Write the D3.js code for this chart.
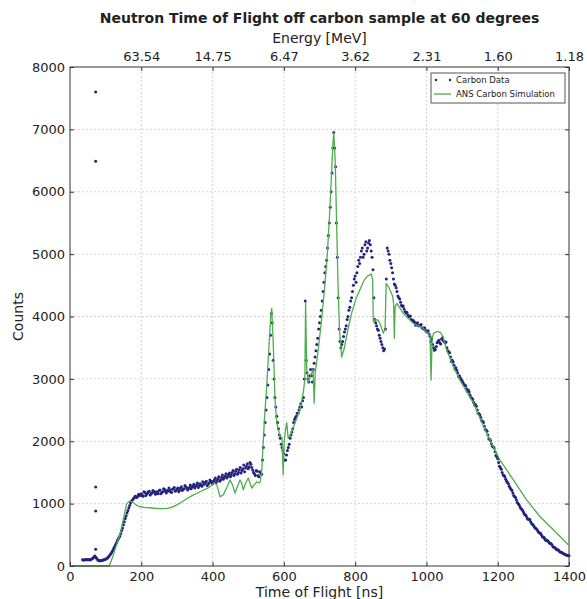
<!DOCTYPE html>
<html>
<head>
<meta charset="utf-8">
<script src="https://cdn.jsdelivr.net/npm/d3@7"></script>
<style>
  body { margin: 0; background: #fff; }
  text { font-family: "DejaVu Sans", sans-serif; fill: #222; }
</style>
</head>
<body>
<div class="graph"></div>
<script>
// measured bins: two interleaved passes, 5 ns wide, offset by 2.5 ns
const binStartA = 35;
const binStartB = 37.5;
const binWidth = 5;
const dataCountsA = [
  // 35-100
  100, 95, 105, 100, 95, 110, 130, 160, 120, 90, 85, 90, 100, 110,
  // 105-195
  130, 160, 200, 250, 310, 370, 430, 480, 570, 660, 760, 850, 930, 1010, 1060, 1090, 1110, 1120, 1140,
  // 200-395
  1160, 1120, 1180, 1150, 1190, 1140, 1170, 1200, 1150, 1180,
  1210, 1160, 1190, 1230, 1170, 1200, 1220, 1180, 1240, 1200,
  1230, 1190, 1250, 1210, 1240, 1270, 1220, 1260, 1240, 1280,
  1250, 1300, 1260, 1320, 1280, 1310, 1340, 1290, 1330, 1360,
  // 400-535
  1320, 1380, 1340, 1400, 1360, 1420, 1390, 1440, 1410, 1470,
  1430, 1500, 1450, 1520, 1470, 1540, 1490, 1560, 1510, 1600,
  1560, 1660, 1580, 1500, 1450, 1520, 1430, 1490,
  // 540-695
  1700, 2100, 2500, 2900, 3400, 4050, 3300, 2700, 2400, 2200,
  2050, 1900, 1800, 1700, 1850, 1950, 2100, 2200, 2350, 2400,
  2450, 2550, 2550, 2700, 4250, 3100, 2950, 3150, 2950, 3250,
  3450, 3650,
  // 700-895
  3900, 4100, 4400, 4700, 4900, 5300, 5750, 6300, 6950, 6400,
  4950, 3800, 3500, 3600, 3750, 3850, 4000, 4150, 4300, 4500,
  4650, 4700, 4900, 4950, 5100, 5000, 5200, 5100, 5220, 5050,
  4750, 3950, 3850, 3780, 3650, 3550, 3450, 3800, 5100, 5000,
  // 900-1095
  4850, 4700, 4520, 4460, 4330, 4280, 4180, 4170, 4080, 4070,
  3990, 4010, 3930, 3920, 3860, 3900, 3850, 3870, 3810, 3820,
  3760, 3770, 3680, 3640, 3500, 3470, 3580, 3620, 3560, 3660,
  3600, 3590, 3450, 3420, 3280, 3270, 3160, 3140, 3040, 3020,
  // 1100-1295
  2970, 2910, 2890, 2800, 2790, 2700, 2670, 2580, 2560, 2450,
  2420, 2330, 2300, 2190, 2160, 2040, 2010, 1920, 1890, 1770,
  1720, 1600, 1550, 1460, 1430, 1360, 1320, 1250, 1210, 1130,
  1100, 1020, 980, 920, 890, 830, 800, 750, 745, 680,
  // 1300-1400
  655, 610, 585, 540, 525, 470, 455, 410, 405, 370,
  355, 310, 295, 260, 255, 225, 215, 195, 185, 170, 165,
];
const dataCountsB = [
  // 37.5-97.5
  95, 100, 100, 105, 100, 120, 150, 140, 100, 85, 88, 95, 105,
  // 102.5-197.5
  120, 145, 180, 225, 280, 340, 400, 455, 520, 610, 710, 800, 890, 970, 1040, 1080, 1120, 1100, 1150, 1130,
  // 202.5-397.5
  1140, 1190, 1130, 1170, 1200, 1160, 1210, 1180, 1190, 1160,
  1220, 1180, 1240, 1200, 1210, 1250, 1190, 1230, 1260, 1210,
  1250, 1220, 1270, 1230, 1290, 1250, 1240, 1300, 1270, 1310,
  1280, 1330, 1290, 1300, 1350, 1320, 1360, 1310, 1380, 1340,
  // 402.5-537.5
  1360, 1410, 1370, 1430, 1380, 1460, 1420, 1480, 1440, 1490,
  1460, 1530, 1480, 1550, 1500, 1580, 1530, 1620, 1570, 1640,
  1590, 1630, 1540, 1480, 1530, 1450, 1510, 1470,
  // 542.5-697.5
  1900, 2300, 2700, 3150, 3700, 3900, 3000, 2550, 2300, 2100,
  1950, 1850, 1700, 1780, 1900, 2050, 2150, 2300, 2380, 2450,
  2500, 2600, 2650, 3000, 3300, 3000, 3050, 3050, 3150, 3350,
  3550, 3800,
  // 702.5-897.5
  4000, 4250, 4550, 4800, 5100, 5500, 6000, 6700, 6700, 5500,
  4300, 3600, 3550, 3680, 3800, 3950, 4100, 4250, 4400, 4600,
  4550, 4800, 4850, 5050, 4950, 5150, 5050, 5180, 5150, 4950,
  4300, 3900, 3800, 3700, 3600, 3500, 3480, 4600, 5050, 4900,
  // 902.5-1097.5
  4780, 4600, 4500, 4400, 4300, 4230, 4160, 4120, 4060, 4030,
  4000, 3950, 3940, 3900, 3880, 3850, 3860, 3820, 3800, 3780,
  3750, 3720, 3600, 3550, 3460, 3520, 3600, 3580, 3640, 3610,
  3580, 3500, 3430, 3350, 3300, 3220, 3180, 3100, 3050, 2990,
  // 1102.5-1297.5
  2940, 2900, 2840, 2820, 2740, 2690, 2620, 2590, 2500, 2440,
  2380, 2320, 2240, 2180, 2100, 2030, 1960, 1910, 1830, 1750,
  1660, 1580, 1500, 1450, 1390, 1340, 1280, 1230, 1170, 1110,
  1060, 1000, 950, 910, 860, 820, 770, 750, 710, 670,
  // 1302.5-1397.5
  630, 600, 560, 530, 500, 465, 430, 415, 390, 360,
  335, 300, 280, 265, 240, 220, 205, 190, 175, 170,
];

// stray points near the gamma flash
const outlierTimes = [72, 72, 72, 72, 72];
const outlierCounts = [7600, 6490, 1265, 880, 270];

const simTimes = [
  5, 110, 120, 130, 140, 150, 159, 167, 175, 185, 196, 210, 230, 250, 270, 285, 300, 320, 340, 365,
  390, 405, 412, 421, 430, 440, 449, 456, 463, 470, 477, 482, 486, 493, 500, 505, 510, 517, 524, 530,
  534, 538, 545, 552, 558, 563, 566, 570, 575, 580, 588, 595, 598, 601, 605, 608, 612, 618, 625, 635,
  645, 655, 659, 661, 664, 668, 675, 682, 685, 688, 695, 705, 715, 722, 728, 733, 738, 740, 744, 748,
  752, 756, 762, 770, 780, 790, 804, 815, 825, 835, 845, 849, 851, 856, 865, 872, 879, 884, 887, 893,
  898, 905, 908, 910, 912, 917, 935, 963, 991, 1005, 1010, 1013, 1016, 1020, 1030, 1040, 1047, 1057, 1076, 1094,
  1132, 1169, 1206, 1244, 1281, 1319, 1356, 1398,
];
const simCounts = [
  0, 0, 150, 330, 500, 760, 1000, 1040, 1030, 980, 950, 940, 930, 920, 920, 940, 980, 1050, 1120, 1190,
  1260, 1330, 1300, 1110, 1140, 1260, 1380, 1300, 1170, 1280, 1380, 1320, 1220, 1330, 1410, 1330, 1250, 1300, 1350, 1330,
  1350, 1540, 2300, 2900, 3500, 4000, 4130, 3600, 2700, 2300, 2100, 2050, 1460, 2000, 2200, 2300, 2050, 2100, 2200, 2350,
  2500, 2800, 3000, 4230, 3200, 2950, 3050, 3150, 2610, 3100, 3400, 3900, 4500, 5000, 5600, 6200, 6800, 6950, 6500, 5500,
  4500, 3800, 3350, 3500, 3800, 4050, 4310, 4450, 4580, 4650, 4680, 4600, 3915, 3950, 3940, 3850, 3735, 3800, 4530, 4480,
  4420, 4330, 4200, 3650, 4150, 4210, 4050, 3890, 3810, 3730, 3700, 2980, 3650, 3730, 3760, 3740, 3670, 3460, 3190, 2980,
  2610, 2130, 1700, 1380, 1060, 790, 580, 340,
];

const tofTicks = [0, 200, 400, 600, 800, 1000, 1200, 1400];
const energyTicks = [200, 400, 600, 800, 1000, 1200, 1400];
const energyLabels = ["63.54", "14.75", "6.47", "3.62", "2.31", "1.60", "1.18"];
const countTicks = [0, 1000, 2000, 3000, 4000, 5000, 6000, 7000, 8000];

const width = 587;
const height = 599;
const margin = { top: 67, right: 18, bottom: 33, left: 70 };

const dataPoints = [
  ...dataCountsA.map((c, i) => ({ t: binStartA + i * binWidth, c })),
  ...dataCountsB.map((c, i) => ({ t: binStartB + i * binWidth, c })),
  ...outlierTimes.map((t, i) => ({ t, c: outlierCounts[i] })),
];
const sim = simTimes.map((t, i) => ({ t, c: simCounts[i] }));

const x = d3.scaleLinear().domain([0, 1400]).range([margin.left, width - margin.right]);
const y = d3.scaleLinear().domain([0, 8000]).range([height - margin.bottom, margin.top]);

const svg = d3
  .select(".graph")
  .append("svg")
  .attr("width", width)
  .attr("height", height)
  .attr("viewBox", [0, 0, width, height]);

// grid
svg
  .append("g")
  .attr("stroke", "#d4d4d4")
  .attr("stroke-dasharray", "2,2")
  .selectAll()
  .data(tofTicks.slice(1, -1))
  .join("line")
  .attr("x1", (d) => x(d))
  .attr("x2", (d) => x(d))
  .attr("y1", y(0))
  .attr("y2", y(8000));

svg
  .append("g")
  .attr("stroke", "#d4d4d4")
  .attr("stroke-dasharray", "2,2")
  .selectAll()
  .data(countTicks.slice(1, -1))
  .join("line")
  .attr("x1", x(0))
  .attr("x2", x(1400))
  .attr("y1", (d) => y(d))
  .attr("y2", (d) => y(d));

// measured data
svg
  .append("g")
  .attr("fill", "#23237e")
  .selectAll()
  .data(dataPoints)
  .join("circle")
  .attr("cx", (d) => x(d.t))
  .attr("cy", (d) => y(d.c))
  .attr("r", 1.5);

// simulation
const line = d3
  .line()
  .x((d) => x(d.t))
  .y((d) => y(d.c));

svg
  .append("path")
  .datum(sim)
  .attr("fill", "none")
  .attr("stroke", "#4fac4f")
  .attr("stroke-width", 1.3)
  .attr("stroke-linejoin", "round")
  .attr("d", line);

// axes, matplotlib-style inward ticks
const styleAxis = (g) => {
  g.select(".domain").remove();
  g.selectAll(".tick line").attr("stroke", "#333");
  g.selectAll(".tick text").attr("font-size", 13).attr("fill", "#222");
};

svg
  .append("g")
  .attr("transform", `translate(0,${y(0)})`)
  .call(d3.axisBottom(x).tickValues(tofTicks).tickFormat(d3.format("d")).tickSize(-4).tickPadding(6))
  .call(styleAxis);

svg
  .append("g")
  .attr("transform", `translate(0,${y(8000)})`)
  .call(
    d3
      .axisTop(x)
      .tickValues(energyTicks)
      .tickFormat((d, i) => energyLabels[i])
      .tickSize(-4)
      .tickPadding(6),
  )
  .call(styleAxis);

svg
  .append("g")
  .attr("transform", `translate(${x(0)},0)`)
  .call(d3.axisLeft(y).tickValues(countTicks).tickFormat(d3.format("d")).tickSize(-4).tickPadding(5))
  .call(styleAxis);

svg
  .append("g")
  .attr("transform", `translate(${x(1400)},0)`)
  .call(d3.axisRight(y).tickValues(countTicks).tickFormat("").tickSize(-4))
  .call(styleAxis);

// frame
svg
  .append("rect")
  .attr("x", x(0))
  .attr("y", y(8000))
  .attr("width", x(1400) - x(0))
  .attr("height", y(0) - y(8000))
  .attr("fill", "none")
  .attr("stroke", "#333");

// labels
svg
  .append("text")
  .attr("x", (x(0) + x(1400)) / 2)
  .attr("y", 23)
  .attr("text-anchor", "middle")
  .attr("font-size", 14)
  .attr("font-weight", "bold")
  .text("Neutron Time of Flight off carbon sample at 60 degrees");

svg
  .append("text")
  .attr("x", (x(0) + x(1400)) / 2)
  .attr("y", 43)
  .attr("text-anchor", "middle")
  .attr("font-size", 14)
  .text("Energy [MeV]");

svg
  .append("text")
  .attr("x", (x(0) + x(1400)) / 2)
  .attr("y", 597)
  .attr("text-anchor", "middle")
  .attr("font-size", 14)
  .text("Time of Flight [ns]");

svg
  .append("text")
  .attr("transform", `translate(23,${(y(0) + y(8000)) / 2}) rotate(-90)`)
  .attr("text-anchor", "middle")
  .attr("font-size", 14)
  .text("Counts");

// legend
const legend = svg.append("g").attr("transform", "translate(431,73)");
legend
  .append("rect")
  .attr("width", 134)
  .attr("height", 30)
  .attr("fill", "#fff")
  .attr("stroke", "#555");

legend
  .selectAll("circle")
  .data([5, 19])
  .join("circle")
  .attr("cx", (d) => d)
  .attr("cy", 7)
  .attr("r", 1.2)
  .attr("fill", "#23237e");

legend
  .append("line")
  .attr("x1", 3)
  .attr("x2", 20)
  .attr("y1", 21)
  .attr("y2", 21)
  .attr("stroke", "#4fac4f")
  .attr("stroke-width", 1.3);

legend
  .selectAll("text")
  .data(["Carbon Data", "ANS Carbon Simulation"])
  .join("text")
  .attr("x", 25)
  .attr("y", (d, i) => 7 + i * 14)
  .attr("dy", "0.35em")
  .attr("font-size", 8.5)
  .text((d) => d);
</script>
</body>
</html>
